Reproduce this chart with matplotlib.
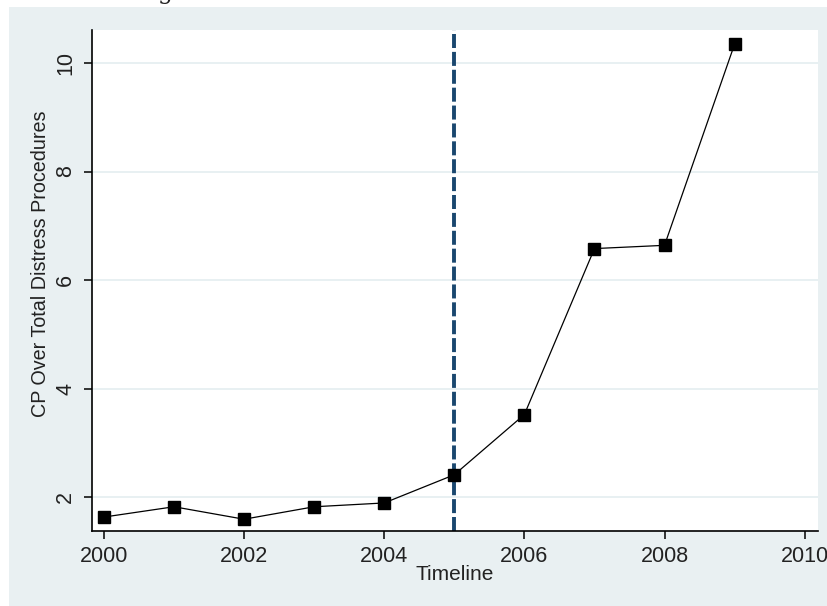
import matplotlib
matplotlib.use("Agg")
import matplotlib.pyplot as plt

years = [2000, 2001, 2002, 2003, 2004, 2005, 2006, 2007, 2008, 2009]
ratio = [1.63, 1.82, 1.59, 1.82, 1.89, 2.41, 3.52, 6.58, 6.64, 10.35]
event_year = 2005
xticks = [2000, 2002, 2004, 2006, 2008, 2010]
yticks = [2, 4, 6, 8, 10]

plt.rcParams['font.family'] = ['Liberation Sans', 'DejaVu Sans']

W, H = 828, 606
fig = plt.figure(figsize=(W / 100, H / 100), dpi=100)
bg = '#e9f0f2'
# background panel (white strip at top and left edge)
bgax = fig.add_axes([9 / W, 0, 1 - 9 / W, (H - 7) / H], zorder=-10)
bgax.axis('off')
bgax.add_patch(plt.Rectangle((0, 0), 1, 1, transform=bgax.transAxes,
                             color=bg, zorder=0))
fig.text(165 / W, 1 + 1.5 / H, 'g', family='DejaVu Serif', fontsize=17,
         ha='center', va='baseline', color='#222222')

ax = fig.add_axes([92 / W, (H - 531) / H, 726 / W, 501 / H], zorder=1)
ax.set_facecolor('white')

ax.set_xlim(1999.83, 2010.19)
ax.set_ylim(1.373, 10.61)

for yv in yticks:
    ax.axhline(yv, color='#e4edf0', lw=1.2, zorder=1)

ax.axvline(event_year, color='#1a476f', lw=2.8, dashes=(3.6, 1.0), zorder=2)
ax.plot(years, ratio, color='black', lw=0.9, marker='s', markersize=9,
        markerfacecolor='black', markeredgecolor='black', zorder=3)

ax.set_xticks(xticks)
ax.set_yticks(yticks)
for s in ['top', 'right']:
    ax.spines[s].set_visible(False)
for s in ['left', 'bottom']:
    ax.spines[s].set_linewidth(1.2)
    ax.spines[s].set_color('black')

ax.tick_params(axis='both', direction='out', length=5.5, width=1.1,
               labelsize=15.5, colors='black', labelcolor='#222222')
ax.tick_params(axis='x', pad=5)
ax.tick_params(axis='y', pad=6)
for lab in ax.get_yticklabels():
    lab.set_rotation(90)
    lab.set_va('center')
    lab.set_ha('right')

ax.set_xlabel('Timeline', fontsize=15, color='#222222', labelpad=-1)
ax.set_ylabel('CP Over Total Distress Procedures', fontsize=14.2,
              color='#222222')
ax.yaxis.set_label_coords(-0.0579, 0.533)

fig.savefig('out.png', dpi=100, facecolor='white')
